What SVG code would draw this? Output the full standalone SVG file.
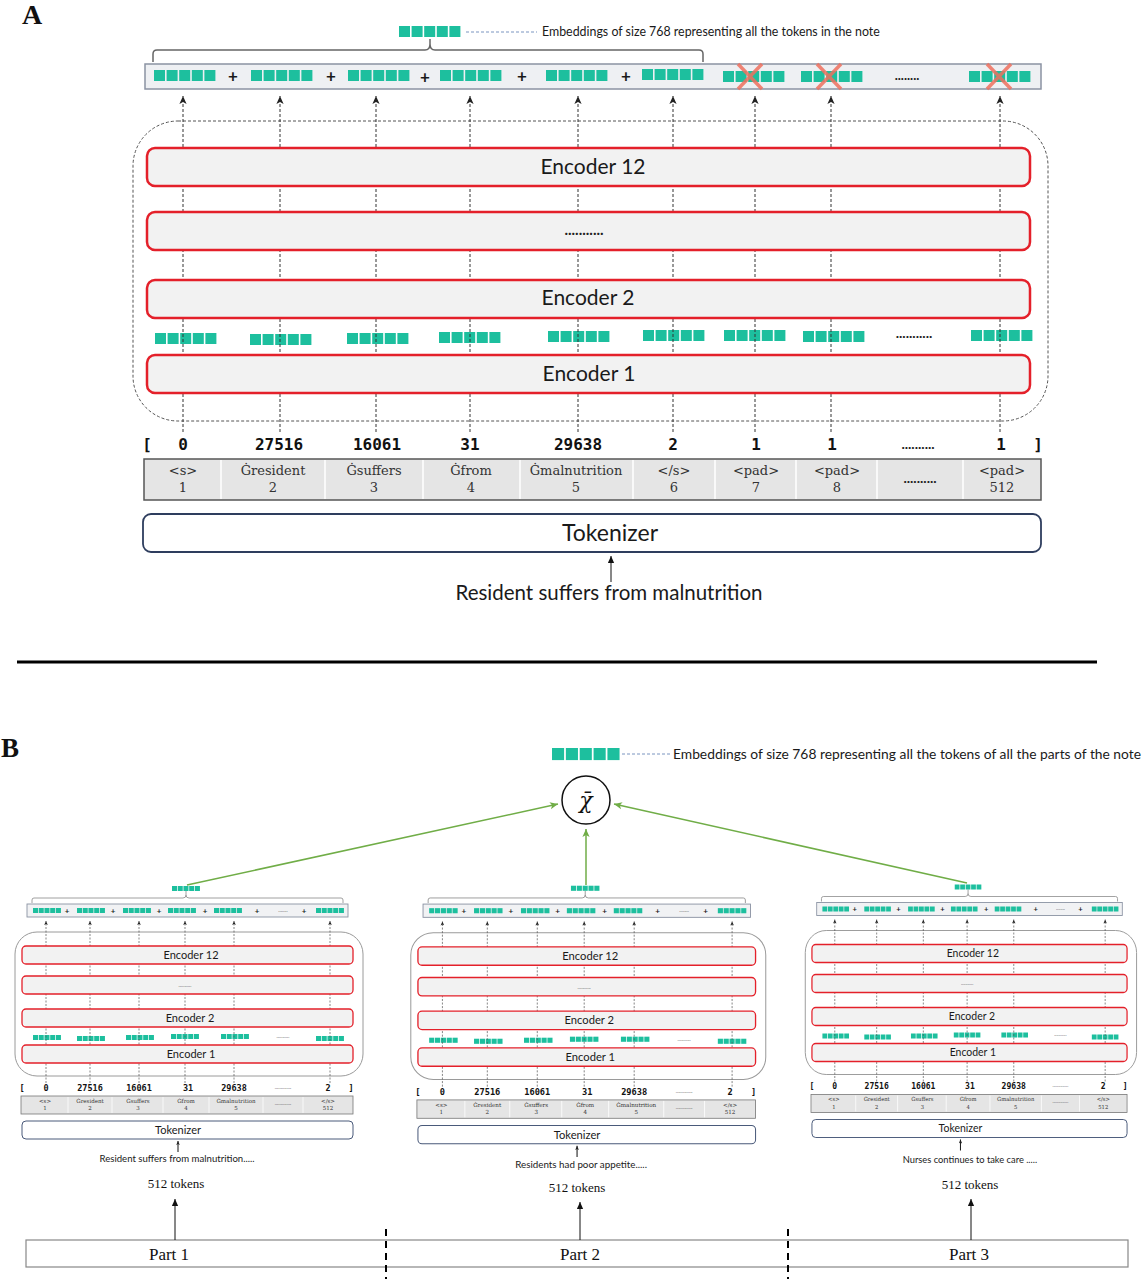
<svg xmlns="http://www.w3.org/2000/svg" xmlns:xlink="http://www.w3.org/1999/xlink" width="1146" height="1280" viewBox="0 0 1146 1280">
<style>
.t{font-family:Lato,"Liberation Sans",sans-serif;fill:#1a1a1a}
.sr{font-family:"Liberation Serif","Times New Roman",serif;fill:#111}
.slab{font-family:"DejaVu Serif","Liberation Serif",serif;fill:#333;text-anchor:middle}
.mono{font-family:"DejaVu Sans Mono","Liberation Mono",monospace;font-weight:bold;fill:#111;text-anchor:middle}
.mid{text-anchor:middle}
.teal{fill:#1dbf9e}
.enc{fill:#f2f2f2;stroke:#e4202a;stroke-width:2.5}
.encB{fill:#f2f2f2;stroke:#e4202a;stroke-width:1.3}
.vd{stroke:#333;stroke-width:1;stroke-dasharray:3 2;fill:none}
.vds{stroke:#555;stroke-width:0.7;stroke-dasharray:2 1.5;fill:none}
.cont{fill:none;stroke:#555;stroke-width:1;stroke-dasharray:3 2}
.contB{fill:none;stroke:#9a9a9a;stroke-width:1}
.bar{fill:#eef0f3;stroke:#8b93a3;stroke-width:1.5}
.barB{fill:#f1f2f4;stroke:#8b93a3;stroke-width:0.9}
.tab{fill:#e5e5e5;stroke:#555;stroke-width:1.5}
.tabB{fill:#e5e5e5;stroke:#777;stroke-width:0.8}
.div{stroke:#fff;stroke-width:1.5}
.tok{fill:#fff;stroke:#2e3d5e;stroke-width:1.8}
.tokB{fill:#fff;stroke:#4a5a7a;stroke-width:1}
.brace{fill:none;stroke:#666;stroke-width:1.5}
.braceB{fill:none;stroke:#888;stroke-width:0.8}
.xm{stroke:#f0705f;stroke-width:3.5;opacity:0.85}
.grn{stroke:#70ad47;stroke-width:1.5;fill:none}
.blk{stroke:#111;stroke-width:1;fill:none}
.dot{font-family:Lato,"Liberation Sans",sans-serif;font-weight:bold;fill:#222;text-anchor:middle}
.dotB{font-family:Lato,"Liberation Sans",sans-serif;font-size:5px;fill:#555;text-anchor:middle}
</style>
<defs>
<g id="emb">
<rect x="0" y="0" width="11" height="11"/><rect x="12.6" y="0" width="11" height="11"/><rect x="25.2" y="0" width="11" height="11"/><rect x="37.8" y="0" width="11" height="11"/><rect x="50.4" y="0" width="11" height="11"/>
</g>
<marker id="ah" viewBox="0 0 10 10" refX="10" refY="5" markerWidth="9" markerHeight="8" markerUnits="userSpaceOnUse" orient="auto"><path d="M0,0.5 L10,5 L0,9.5 L2.5,5 z" fill="#222"/></marker>
<marker id="ahs" viewBox="0 0 10 10" refX="10" refY="5" markerWidth="4.5" markerHeight="4" markerUnits="userSpaceOnUse" orient="auto"><path d="M0,0.5 L10,5 L0,9.5 L2.5,5 z" fill="#222"/></marker>
<marker id="ahb" viewBox="0 0 10 10" refX="10" refY="5" markerWidth="10" markerHeight="7" markerUnits="userSpaceOnUse" orient="auto"><path d="M0,0.5 L10,5 L0,9.5 z" fill="#111"/></marker>
<marker id="ahg" viewBox="0 0 10 10" refX="10" refY="5" markerWidth="9" markerHeight="8" markerUnits="userSpaceOnUse" orient="auto"><path d="M0,0.5 L10,5 L0,9.5 L2.5,5 z" fill="#70ad47"/></marker>
</defs>
<rect x="0" y="0" width="1146" height="1280" fill="#fff"/>

<!-- ================= PART A ================= -->
<text class="sr" x="22" y="24" font-size="28" font-weight="bold">A</text>

<g id="A-container"><rect class="cont" x="133" y="121" width="915" height="300" rx="45"/></g>

<g id="A-hidden-embeddings" class="teal">
<use href="#emb" transform="translate(155,333)"/>
<use href="#emb" transform="translate(250,334)"/>
<use href="#emb" transform="translate(347,333)"/>
<use href="#emb" transform="translate(439,332)"/>
<use href="#emb" transform="translate(548,331)"/>
<use href="#emb" transform="translate(643,330)"/>
<use href="#emb" transform="translate(724,330)"/>
<use href="#emb" transform="translate(803,331)"/>
<use href="#emb" transform="translate(971,330)"/>
</g>
<text class="dot" x="914" y="338" font-size="14">...........</text>

<g id="A-connectors" class="vd">
<line x1="183" y1="432" x2="183" y2="96" marker-end="url(#ah)"/>
<line x1="280" y1="432" x2="280" y2="96" marker-end="url(#ah)"/>
<line x1="376" y1="432" x2="376" y2="96" marker-end="url(#ah)"/>
<line x1="470" y1="432" x2="470" y2="96" marker-end="url(#ah)"/>
<line x1="578" y1="432" x2="578" y2="96" marker-end="url(#ah)"/>
<line x1="673" y1="432" x2="673" y2="96" marker-end="url(#ah)"/>
<line x1="755" y1="432" x2="755" y2="96" marker-end="url(#ah)"/>
<line x1="831" y1="432" x2="831" y2="96" marker-end="url(#ah)"/>
<line x1="1000" y1="432" x2="1000" y2="96" marker-end="url(#ah)"/>
</g>

<g id="A-encoder12"><rect class="enc" x="147" y="148" width="883" height="38" rx="8"/><text class="t mid" x="593" y="174" font-size="21">Encoder 12</text></g>
<g id="A-encoder-dots"><rect class="enc" x="147" y="212" width="883" height="38" rx="8"/><text class="dot" x="584" y="235" font-size="15">...........</text></g>
<g id="A-encoder2"><rect class="enc" x="147" y="280" width="883" height="38" rx="8"/><text class="t mid" x="588" y="305" font-size="21">Encoder 2</text></g>
<g id="A-encoder1"><rect class="enc" x="147" y="355" width="883" height="38" rx="8"/><text class="t mid" x="589" y="381" font-size="21">Encoder 1</text></g>

<g id="A-output-bar">
<rect class="bar" x="145" y="64" width="896" height="25"/>
<g class="teal">
<use href="#emb" transform="translate(154,70)"/>
<use href="#emb" transform="translate(251,70)"/>
<use href="#emb" transform="translate(348,70)"/>
<use href="#emb" transform="translate(440,70)"/>
<use href="#emb" transform="translate(546,70)"/>
<use href="#emb" transform="translate(642,69)"/>
<use href="#emb" transform="translate(723,71)"/>
<use href="#emb" transform="translate(801,71)"/>
<use href="#emb" transform="translate(969,71)"/>
</g>
<g class="t mid" font-size="17" font-weight="bold">
<text x="233" y="82">+</text><text x="331" y="82">+</text><text x="425" y="83">+</text><text x="522" y="82">+</text><text x="626" y="82">+</text>
</g>
<text class="dot" x="907" y="80" font-size="13">........</text>
<g class="xm">
<line x1="738" y1="64" x2="762" y2="89"/><line x1="762" y1="64" x2="738" y2="89"/>
<line x1="817" y1="64" x2="841" y2="89"/><line x1="841" y1="64" x2="817" y2="89"/>
<line x1="987" y1="64" x2="1011" y2="89"/><line x1="1011" y1="64" x2="987" y2="89"/>
</g>
<path class="brace" d="M153,62 V54 Q153,50 157,50 H425 Q430,50 430,44 Q430,50 435,50 H699 Q703,50 703,54 V62"/>
<line x1="430" y1="44" x2="430" y2="39" class="brace"/>
</g>

<g id="A-legend">
<use href="#emb" class="teal" transform="translate(399,26)"/>
<line x1="466" y1="32" x2="537" y2="32" stroke="#7b95c0" stroke-width="1" stroke-dasharray="3 2"/>
<text class="t" x="542" y="36" font-size="12.4">Embeddings of size 768 representing all the tokens in the note</text>
</g>

<g id="A-ids" font-size="16">
<text class="mono" x="147" y="450">[</text>
<text class="mono" x="183" y="450">0</text>
<text class="mono" x="279" y="450">27516</text>
<text class="mono" x="377" y="450">16061</text>
<text class="mono" x="470" y="450">31</text>
<text class="mono" x="578" y="450">29638</text>
<text class="mono" x="673" y="450">2</text>
<text class="mono" x="756" y="450">1</text>
<text class="mono" x="832" y="450">1</text>
<text class="dot" x="918" y="449" font-size="14">..........</text>
<text class="mono" x="1001" y="450">1</text>
<text class="mono" x="1038" y="450">]</text>
</g>

<g id="A-tokens">
<rect class="tab" x="144" y="459" width="897" height="41"/>
<g class="div">
<line x1="221" y1="460" x2="221" y2="499"/><line x1="325" y1="460" x2="325" y2="499"/><line x1="423" y1="460" x2="423" y2="499"/><line x1="520" y1="460" x2="520" y2="499"/><line x1="633" y1="460" x2="633" y2="499"/><line x1="715" y1="460" x2="715" y2="499"/><line x1="796" y1="460" x2="796" y2="499"/><line x1="877" y1="460" x2="877" y2="499"/><line x1="963" y1="460" x2="963" y2="499"/>
</g>
<g font-size="13">
<text class="slab" x="183" y="475">&lt;s&gt;</text><text class="slab" x="183" y="492">1</text>
<text class="slab" x="273" y="475">Ġresident</text><text class="slab" x="273" y="492">2</text>
<text class="slab" x="374" y="475">Ġsuffers</text><text class="slab" x="374" y="492">3</text>
<text class="slab" x="471" y="475">Ġfrom</text><text class="slab" x="471" y="492">4</text>
<text class="slab" x="576" y="475">Ġmalnutrition</text><text class="slab" x="576" y="492">5</text>
<text class="slab" x="674" y="475">&lt;/s&gt;</text><text class="slab" x="674" y="492">6</text>
<text class="slab" x="756" y="475">&lt;pad&gt;</text><text class="slab" x="756" y="492">7</text>
<text class="slab" x="837" y="475">&lt;pad&gt;</text><text class="slab" x="837" y="492">8</text>
<text class="dot" x="920" y="483" font-size="14">..........</text>
<text class="slab" x="1002" y="475">&lt;pad&gt;</text><text class="slab" x="1002" y="492">512</text>
</g>
</g>

<g id="A-tokenizer"><rect class="tok" x="143" y="514" width="898" height="38" rx="8"/><text class="t mid" x="610" y="541" font-size="23">Tokenizer</text></g>
<line class="blk" x1="611" y1="582" x2="611" y2="556" marker-end="url(#ahb)"/>
<g id="A-input"><text class="t mid" x="609" y="600" font-size="20.5">Resident suffers from malnutrition</text></g>

<line x1="17" y1="662" x2="1097" y2="662" stroke="#000" stroke-width="3"/>

<!-- ================= PART B ================= -->
<text class="sr" x="1" y="757" font-size="27" font-weight="bold">B</text>

<g id="B-legend">
<use href="#emb" class="teal" transform="translate(552,748) scale(1.1,1.1)"/>
<line x1="622" y1="754" x2="670" y2="754" stroke="#7b95c0" stroke-width="1" stroke-dasharray="3 2"/>
<text class="t" x="673" y="759" font-size="13" textLength="468" lengthAdjust="spacingAndGlyphs">Embeddings of size 768 representing all the tokens of all the parts of the note</text>
</g>

<g id="B-mean"><circle cx="586" cy="800" r="24" fill="#fff" stroke="#111" stroke-width="1.5"/><text x="586" y="808" font-family="'DejaVu Serif', serif" font-size="22" font-style="italic" text-anchor="middle" fill="#111">χ̄</text></g>

<!-- Panel 1 -->
<g id="B-panel1">
<rect class="contB" x="15" y="932" width="348" height="144" rx="22"/>
<g class="teal">
<use href="#emb" transform="translate(33,1035) scale(0.455)"/><use href="#emb" transform="translate(77,1036) scale(0.455)"/><use href="#emb" transform="translate(126,1035) scale(0.455)"/><use href="#emb" transform="translate(171,1034) scale(0.455)"/><use href="#emb" transform="translate(221,1034) scale(0.455)"/><use href="#emb" transform="translate(316,1036) scale(0.455)"/>
</g>
<text class="dotB" x="283" y="1038">...........</text>
<g class="vds">
<line x1="46" y1="1083" x2="46" y2="921" marker-end="url(#ahs)"/><line x1="90" y1="1083" x2="90" y2="921" marker-end="url(#ahs)"/><line x1="139" y1="1083" x2="139" y2="921" marker-end="url(#ahs)"/><line x1="185" y1="1083" x2="185" y2="921" marker-end="url(#ahs)"/><line x1="234" y1="1083" x2="234" y2="921" marker-end="url(#ahs)"/><line x1="330" y1="1083" x2="330" y2="921" marker-end="url(#ahs)"/>
</g>
<rect class="encB" x="22" y="946" width="331" height="18" rx="4"/><text class="t mid" x="191" y="959" font-size="11">Encoder 12</text>
<rect class="encB" x="22" y="976" width="331" height="18" rx="4"/><text class="dotB" x="185" y="987">...........</text>
<rect class="encB" x="22" y="1009" width="331" height="18" rx="4"/><text class="t mid" x="190" y="1022" font-size="11">Encoder 2</text>
<rect class="encB" x="22" y="1045" width="331" height="18" rx="4"/><text class="t mid" x="191" y="1058" font-size="11">Encoder 1</text>
<rect class="barB" x="27" y="904" width="321" height="13"/>
<g class="teal">
<use href="#emb" transform="translate(33,908) scale(0.455)"/><use href="#emb" transform="translate(77,908) scale(0.455)"/><use href="#emb" transform="translate(123,908) scale(0.455)"/><use href="#emb" transform="translate(168,908) scale(0.455)"/><use href="#emb" transform="translate(214,908) scale(0.455)"/><use href="#emb" transform="translate(316,908) scale(0.455)"/>
</g>
<g class="t mid" font-size="8" font-weight="bold"><text x="67" y="914">+</text><text x="113" y="914">+</text><text x="159" y="914">+</text><text x="205" y="914">+</text><text x="257" y="914">+</text><text x="304" y="914">+</text></g>
<text class="dotB" x="283" y="912">........</text>
<path class="braceB" d="M32,903 V900 Q32,898 34,898 H183 Q186,898 186,895 Q186,898 189,898 H341 Q343,898 343,900 V903 M186,895 V891"/>
<use href="#emb" class="teal" transform="translate(172,886) scale(0.455)"/>
<g font-size="8.5">
<text class="mono" x="22" y="1091">[</text><text class="mono" x="46" y="1091">0</text><text class="mono" x="90" y="1091">27516</text><text class="mono" x="139" y="1091">16061</text><text class="mono" x="188" y="1091">31</text><text class="mono" x="234" y="1091">29638</text><text class="dotB" x="283" y="1089">..............</text><text class="mono" x="328" y="1091">2</text><text class="mono" x="351" y="1091">]</text>
</g>
<rect class="tabB" x="21" y="1096" width="332" height="18"/>
<g class="div" style="stroke-width:0.8"><line x1="68" y1="1097" x2="68" y2="1113"/><line x1="112" y1="1097" x2="112" y2="1113"/><line x1="163" y1="1097" x2="163" y2="1113"/><line x1="209" y1="1097" x2="209" y2="1113"/><line x1="263" y1="1097" x2="263" y2="1113"/><line x1="303" y1="1097" x2="303" y2="1113"/></g>
<g font-size="5.5">
<text class="slab" x="45" y="1103">&lt;s&gt;</text><text class="slab" x="45" y="1110">1</text>
<text class="slab" x="90" y="1103">Ġresident</text><text class="slab" x="90" y="1110">2</text>
<text class="slab" x="138" y="1103">Ġsuffers</text><text class="slab" x="138" y="1110">3</text>
<text class="slab" x="186" y="1103">Ġfrom</text><text class="slab" x="186" y="1110">4</text>
<text class="slab" x="236" y="1103">Ġmalnutrition</text><text class="slab" x="236" y="1110">5</text>
<text class="dotB" x="283" y="1105">..............</text>
<text class="slab" x="328" y="1103">&lt;/s&gt;</text><text class="slab" x="328" y="1110">512</text>
</g>
<rect class="tokB" x="22" y="1121" width="331" height="18" rx="4"/><text class="t mid" x="178" y="1134" font-size="11">Tokenizer</text>
<line class="blk" x1="178" y1="1152" x2="178" y2="1141" stroke-width="0.8" marker-end="url(#ahs)"/>
<text class="t mid" x="177" y="1162" font-size="9.6">Resident suffers from malnutrition.....</text>
</g>

<!-- Panel 2 -->
<g id="B-panel2" transform="matrix(1.02,0,0,1.02,395.5,-18)">
<rect class="contB" x="15" y="932" width="348" height="144" rx="22"/>
<g class="teal">
<use href="#emb" transform="translate(33,1035) scale(0.455)"/><use href="#emb" transform="translate(77,1036) scale(0.455)"/><use href="#emb" transform="translate(126,1035) scale(0.455)"/><use href="#emb" transform="translate(171,1034) scale(0.455)"/><use href="#emb" transform="translate(221,1034) scale(0.455)"/><use href="#emb" transform="translate(316,1036) scale(0.455)"/>
</g>
<text class="dotB" x="283" y="1038">...........</text>
<g class="vds">
<line x1="46" y1="1083" x2="46" y2="921" marker-end="url(#ahs)"/><line x1="90" y1="1083" x2="90" y2="921" marker-end="url(#ahs)"/><line x1="139" y1="1083" x2="139" y2="921" marker-end="url(#ahs)"/><line x1="185" y1="1083" x2="185" y2="921" marker-end="url(#ahs)"/><line x1="234" y1="1083" x2="234" y2="921" marker-end="url(#ahs)"/><line x1="330" y1="1083" x2="330" y2="921" marker-end="url(#ahs)"/>
</g>
<rect class="encB" x="22" y="946" width="331" height="18" rx="4"/><text class="t mid" x="191" y="959" font-size="11">Encoder 12</text>
<rect class="encB" x="22" y="976" width="331" height="18" rx="4"/><text class="dotB" x="185" y="987">...........</text>
<rect class="encB" x="22" y="1009" width="331" height="18" rx="4"/><text class="t mid" x="190" y="1022" font-size="11">Encoder 2</text>
<rect class="encB" x="22" y="1045" width="331" height="18" rx="4"/><text class="t mid" x="191" y="1058" font-size="11">Encoder 1</text>
<rect class="barB" x="27" y="904" width="321" height="13"/>
<g class="teal">
<use href="#emb" transform="translate(33,908) scale(0.455)"/><use href="#emb" transform="translate(77,908) scale(0.455)"/><use href="#emb" transform="translate(123,908) scale(0.455)"/><use href="#emb" transform="translate(168,908) scale(0.455)"/><use href="#emb" transform="translate(214,908) scale(0.455)"/><use href="#emb" transform="translate(316,908) scale(0.455)"/>
</g>
<g class="t mid" font-size="8" font-weight="bold"><text x="67" y="914">+</text><text x="113" y="914">+</text><text x="159" y="914">+</text><text x="205" y="914">+</text><text x="257" y="914">+</text><text x="304" y="914">+</text></g>
<text class="dotB" x="283" y="912">........</text>
<path class="braceB" d="M32,903 V900 Q32,898 34,898 H183 Q186,898 186,895 Q186,898 189,898 H341 Q343,898 343,900 V903 M186,895 V891"/>
<use href="#emb" class="teal" transform="translate(172,886) scale(0.455)"/>
<g font-size="8.5">
<text class="mono" x="22" y="1091">[</text><text class="mono" x="46" y="1091">0</text><text class="mono" x="90" y="1091">27516</text><text class="mono" x="139" y="1091">16061</text><text class="mono" x="188" y="1091">31</text><text class="mono" x="234" y="1091">29638</text><text class="dotB" x="283" y="1089">..............</text><text class="mono" x="328" y="1091">2</text><text class="mono" x="351" y="1091">]</text>
</g>
<rect class="tabB" x="21" y="1096" width="332" height="18"/>
<g class="div" style="stroke-width:0.8"><line x1="68" y1="1097" x2="68" y2="1113"/><line x1="112" y1="1097" x2="112" y2="1113"/><line x1="163" y1="1097" x2="163" y2="1113"/><line x1="209" y1="1097" x2="209" y2="1113"/><line x1="263" y1="1097" x2="263" y2="1113"/><line x1="303" y1="1097" x2="303" y2="1113"/></g>
<g font-size="5.5">
<text class="slab" x="45" y="1103">&lt;s&gt;</text><text class="slab" x="45" y="1110">1</text>
<text class="slab" x="90" y="1103">Ġresident</text><text class="slab" x="90" y="1110">2</text>
<text class="slab" x="138" y="1103">Ġsuffers</text><text class="slab" x="138" y="1110">3</text>
<text class="slab" x="186" y="1103">Ġfrom</text><text class="slab" x="186" y="1110">4</text>
<text class="slab" x="236" y="1103">Ġmalnutrition</text><text class="slab" x="236" y="1110">5</text>
<text class="dotB" x="283" y="1105">..............</text>
<text class="slab" x="328" y="1103">&lt;/s&gt;</text><text class="slab" x="328" y="1110">512</text>
</g>
<rect class="tokB" x="22" y="1121" width="331" height="18" rx="4"/><text class="t mid" x="178" y="1134" font-size="11">Tokenizer</text>
<line class="blk" x1="178" y1="1152" x2="178" y2="1141" stroke-width="0.8" marker-end="url(#ahs)"/>
<text class="t mid" x="182" y="1163" font-size="9.6">Residents had poor appetite.....</text>
</g>

<!-- Panel 3 -->
<g id="B-panel3" transform="matrix(0.952,0,0,1,791,-1.5)">
<rect class="contB" x="15" y="932" width="348" height="144" rx="22"/>
<g class="teal">
<use href="#emb" transform="translate(33,1035) scale(0.455)"/><use href="#emb" transform="translate(77,1036) scale(0.455)"/><use href="#emb" transform="translate(126,1035) scale(0.455)"/><use href="#emb" transform="translate(171,1034) scale(0.455)"/><use href="#emb" transform="translate(221,1034) scale(0.455)"/><use href="#emb" transform="translate(316,1036) scale(0.455)"/>
</g>
<text class="dotB" x="283" y="1038">...........</text>
<g class="vds">
<line x1="46" y1="1083" x2="46" y2="921" marker-end="url(#ahs)"/><line x1="90" y1="1083" x2="90" y2="921" marker-end="url(#ahs)"/><line x1="139" y1="1083" x2="139" y2="921" marker-end="url(#ahs)"/><line x1="185" y1="1083" x2="185" y2="921" marker-end="url(#ahs)"/><line x1="234" y1="1083" x2="234" y2="921" marker-end="url(#ahs)"/><line x1="330" y1="1083" x2="330" y2="921" marker-end="url(#ahs)"/>
</g>
<rect class="encB" x="22" y="946" width="331" height="18" rx="4"/><text class="t mid" x="191" y="959" font-size="11">Encoder 12</text>
<rect class="encB" x="22" y="976" width="331" height="18" rx="4"/><text class="dotB" x="185" y="987">...........</text>
<rect class="encB" x="22" y="1009" width="331" height="18" rx="4"/><text class="t mid" x="190" y="1022" font-size="11">Encoder 2</text>
<rect class="encB" x="22" y="1045" width="331" height="18" rx="4"/><text class="t mid" x="191" y="1058" font-size="11">Encoder 1</text>
<rect class="barB" x="27" y="904" width="321" height="13"/>
<g class="teal">
<use href="#emb" transform="translate(33,908) scale(0.455)"/><use href="#emb" transform="translate(77,908) scale(0.455)"/><use href="#emb" transform="translate(123,908) scale(0.455)"/><use href="#emb" transform="translate(168,908) scale(0.455)"/><use href="#emb" transform="translate(214,908) scale(0.455)"/><use href="#emb" transform="translate(316,908) scale(0.455)"/>
</g>
<g class="t mid" font-size="8" font-weight="bold"><text x="67" y="914">+</text><text x="113" y="914">+</text><text x="159" y="914">+</text><text x="205" y="914">+</text><text x="257" y="914">+</text><text x="304" y="914">+</text></g>
<text class="dotB" x="283" y="912">........</text>
<path class="braceB" d="M32,903 V900 Q32,898 34,898 H183 Q186,898 186,895 Q186,898 189,898 H341 Q343,898 343,900 V903 M186,895 V891"/>
<use href="#emb" class="teal" transform="translate(172,886) scale(0.455)"/>
<g font-size="8.5">
<text class="mono" x="22" y="1091">[</text><text class="mono" x="46" y="1091">0</text><text class="mono" x="90" y="1091">27516</text><text class="mono" x="139" y="1091">16061</text><text class="mono" x="188" y="1091">31</text><text class="mono" x="234" y="1091">29638</text><text class="dotB" x="283" y="1089">..............</text><text class="mono" x="328" y="1091">2</text><text class="mono" x="351" y="1091">]</text>
</g>
<rect class="tabB" x="21" y="1096" width="332" height="18"/>
<g class="div" style="stroke-width:0.8"><line x1="68" y1="1097" x2="68" y2="1113"/><line x1="112" y1="1097" x2="112" y2="1113"/><line x1="163" y1="1097" x2="163" y2="1113"/><line x1="209" y1="1097" x2="209" y2="1113"/><line x1="263" y1="1097" x2="263" y2="1113"/><line x1="303" y1="1097" x2="303" y2="1113"/></g>
<g font-size="5.5">
<text class="slab" x="45" y="1103">&lt;s&gt;</text><text class="slab" x="45" y="1110">1</text>
<text class="slab" x="90" y="1103">Ġresident</text><text class="slab" x="90" y="1110">2</text>
<text class="slab" x="138" y="1103">Ġsuffers</text><text class="slab" x="138" y="1110">3</text>
<text class="slab" x="186" y="1103">Ġfrom</text><text class="slab" x="186" y="1110">4</text>
<text class="slab" x="236" y="1103">Ġmalnutrition</text><text class="slab" x="236" y="1110">5</text>
<text class="dotB" x="283" y="1105">..............</text>
<text class="slab" x="328" y="1103">&lt;/s&gt;</text><text class="slab" x="328" y="1110">512</text>
</g>
<rect class="tokB" x="22" y="1121" width="331" height="18" rx="4"/><text class="t mid" x="178" y="1134" font-size="11">Tokenizer</text>
<line class="blk" x1="178" y1="1152" x2="178" y2="1141" stroke-width="0.8" marker-end="url(#ahs)"/>
<text class="t mid" x="188" y="1165" font-size="9.8">Nurses continues to take care .....</text>
</g>

<g id="B-token-counts" class="sr mid" font-size="13">
<text x="176" y="1188">512 tokens</text>
<text x="577" y="1192">512 tokens</text>
<text x="970" y="1189">512 tokens</text>
</g>

<g id="B-note-parts">
<rect x="26" y="1240" width="1102" height="27" fill="#fff" stroke="#888" stroke-width="1.2"/>
<text class="sr mid" x="169" y="1260" font-size="17">Part 1</text>
<text class="sr mid" x="580" y="1260" font-size="17">Part 2</text>
<text class="sr mid" x="969" y="1260" font-size="17">Part 3</text>
<line x1="386" y1="1229" x2="386" y2="1279" stroke="#000" stroke-width="2" stroke-dasharray="7 5"/>
<line x1="788" y1="1229" x2="788" y2="1279" stroke="#000" stroke-width="2" stroke-dasharray="7 5"/>
</g>

<g id="B-connectors">
<line class="blk" x1="175" y1="1240" x2="175" y2="1199" marker-end="url(#ahb)"/>
<line class="blk" x1="580" y1="1240" x2="580" y2="1202" marker-end="url(#ahb)"/>
<line class="blk" x1="971" y1="1240" x2="971" y2="1199" marker-end="url(#ahb)"/>
<line class="grn" x1="187" y1="885" x2="558" y2="804" marker-end="url(#ahg)"/>
<line class="grn" x1="586" y1="885" x2="586" y2="829" marker-end="url(#ahg)"/>
<line class="grn" x1="967" y1="883" x2="614" y2="804" marker-end="url(#ahg)"/>
</g>
</svg>
